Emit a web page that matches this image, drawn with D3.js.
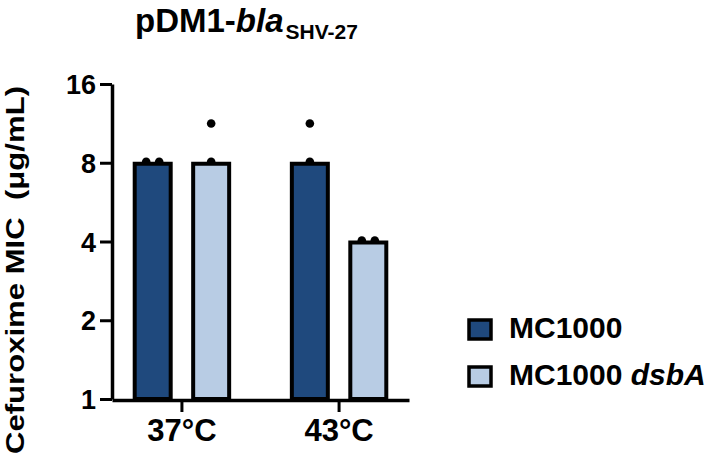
<!DOCTYPE html>
<html>
<head>
<meta charset="utf-8">
<script src="https://cdn.jsdelivr.net/npm/d3@7"></script>
<style>
  body { margin: 0; background: #fff; }
  text { font-family: "Liberation Sans", Arial, sans-serif; font-weight: bold; fill: #000; }
</style>
</head>
<body>
<div id="chart"></div>
<script>
// categories and series
var groups = ["37°C", "43°C"];
var strains = ["MC1000", "MC1000 dsbA"];

// bar heights (MIC, ug/mL), one per group
var mc1000Bars = [8, 8];
var dsbABars = [8, 4];

// individual replicates
var mc1000Points = [[8, 8], [8, 11.2]];
var dsbAPoints = [[8, 11.2], [4, 4]];

var yTicks = [1, 2, 4, 8, 16];
var colors = ["#1f497d", "#b8cce4"];

var width = 720, height = 460;
var margin = {top: 84, left: 112, bottom: 61, right: 311};

var svg = d3.select("#chart")
  .append("svg")
  .attr("width", width)
  .attr("height", height);

// scales
var y = d3.scaleLog().base(2)
  .domain([1, 16])
  .range([height - margin.bottom, margin.top]);

var x0 = d3.scaleBand()
  .domain(groups)
  .range([margin.left, width - margin.right])
  .paddingInner(0.25)
  .paddingOuter(0.07);

var x1 = d3.scaleBand()
  .domain(strains)
  .range([0, x0.bandwidth()])
  .paddingInner(0.316)
  .paddingOuter(0.166);

var bars = [];
var points = [];
groups.forEach(function(g, i) {
  bars.push({group: g, strain: strains[0], value: mc1000Bars[i]});
  bars.push({group: g, strain: strains[1], value: dsbABars[i]});
  [mc1000Points[i], dsbAPoints[i]].forEach(function(vals, s) {
    vals.forEach(function(v, k) {
      // equal values sit side by side, others on the bar centre
      var same = vals.filter(function(w) { return w == v; }).length;
      var idx = vals.slice(0, k).filter(function(w) { return w == v; }).length;
      var off = same > 1 ? (idx - (same - 1) / 2) * 13 : 0;
      points.push({group: g, strain: strains[s], value: v, off: off});
    });
  });
});

var cx = function(d) { return x0(d.group) + x1(d.strain) + x1.bandwidth() / 2; };

// dots behind bars
svg.append("g").selectAll("circle")
  .data(points)
  .join("circle")
  .attr("cx", function(d) { return cx(d) + d.off; })
  .attr("cy", function(d) { return y(d.value) - 1; })
  .attr("r", 4.3)
  .attr("fill", "#000");

svg.append("g").selectAll("rect")
  .data(bars)
  .join("rect")
  .attr("x", function(d) { return x0(d.group) + x1(d.strain) + 2; })
  .attr("y", function(d) { return y(d.value) + 1; })
  .attr("width", x1.bandwidth() - 4)
  .attr("height", function(d) { return y(1) - y(d.value) - 1; })
  .attr("fill", function(d) { return colors[strains.indexOf(d.strain)]; })
  .attr("stroke", "#000")
  .attr("stroke-width", 4);

// axes
var yAxis = svg.append("g")
  .attr("transform", "translate(" + margin.left + ",0)")
  .call(d3.axisLeft(y).tickValues(yTicks).tickFormat(d3.format("d"))
    .tickSize(12).tickSizeOuter(0).tickPadding(4));

var xAxis = svg.append("g")
  .attr("transform", "translate(0," + (height - margin.bottom + 1) + ")")
  .call(d3.axisBottom(x0).tickSize(12).tickSizeOuter(0).tickPadding(7));

[yAxis, xAxis].forEach(function(a) {
  a.select(".domain").attr("stroke-width", 3.5);
  a.selectAll(".tick line").attr("stroke-width", 3);
  a.selectAll("text").style("font-family", "'Liberation Sans', Arial, sans-serif")
    .style("font-weight", "bold");
});
yAxis.selectAll("text").style("font-size", "27px").attr("dy", "0.36em");
xAxis.selectAll("text").style("font-size", "31px").attr("dy", "0.71em");

// title
var title = svg.append("text")
  .attr("x", 135)
  .attr("y", 32)
  .style("font-size", "33px");
title.append("tspan").text("pDM1-");
title.append("tspan").style("font-style", "italic").text("bla");
title.append("tspan").attr("dy", 7).attr("dx", 2).style("font-size", "21px").text("SHV-27");

// y label
svg.append("text")
  .attr("transform", "translate(24," + 270 + ") rotate(-90)")
  .attr("text-anchor", "middle")
  .attr("xml:space", "preserve")
  .attr("textLength", 368)
  .attr("lengthAdjust", "spacingAndGlyphs")
  .style("white-space", "pre")
  .style("font-size", "25px")
  .text("Cefuroxime MIC  (\u03bcg/mL)");

// legend
var legend = svg.append("g").selectAll("g")
  .data(strains)
  .join("g")
  .attr("transform", function(d, i) { return "translate(469," + (320 + i * 47) + ")"; });

legend.append("rect")
  .attr("width", 22)
  .attr("height", 19)
  .attr("fill", function(d, i) { return colors[i]; })
  .attr("stroke", "#000")
  .attr("stroke-width", 3.5);

legend.append("text")
  .attr("x", 40)
  .attr("y", 18)
  .style("font-size", "30px")
  .each(function(d) {
    var t = d3.select(this);
    var parts = d.split(" ");
    t.append("tspan").text(parts[0]);
    if (parts[1]) t.append("tspan").style("font-style", "italic").text(" " + parts[1]);
  });
</script>
</body>
</html>
